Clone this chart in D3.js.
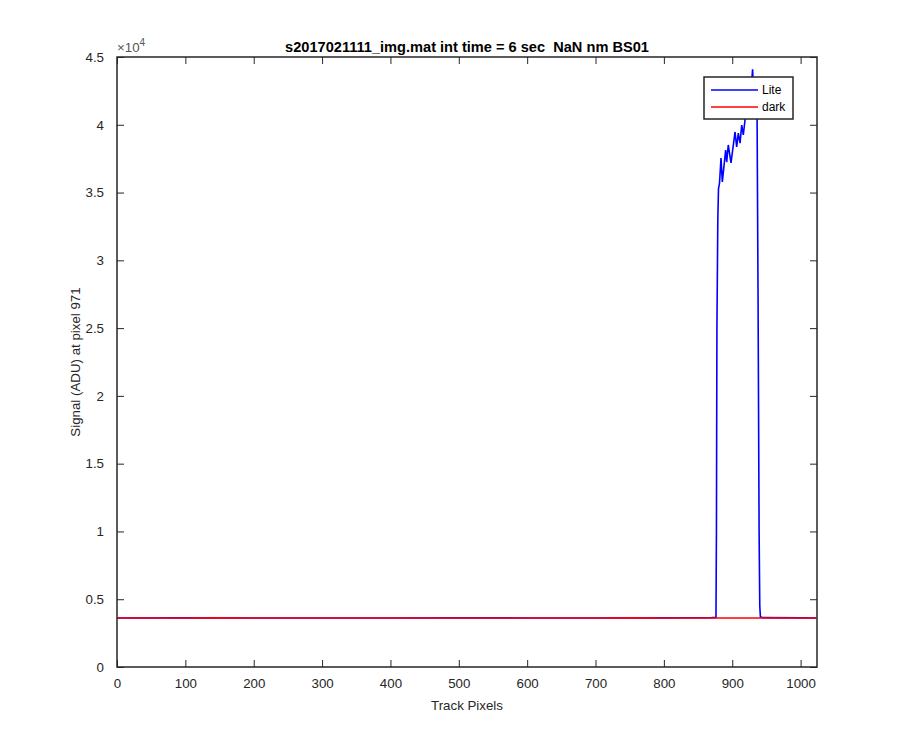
<!DOCTYPE html>
<html>
<head>
<meta charset="utf-8">
<script src="https://cdn.jsdelivr.net/npm/d3@7"></script>
<style>
  body { margin: 0; background: #fff; }
  svg { display: block; font-family: "Liberation Sans", Arial, sans-serif; }
</style>
</head>
<body>
<script>
// dark frame, sampled along the track (ADU)
var darkPix = [0, 50, 100, 150, 200, 250, 300, 350, 400, 450, 500, 550, 600, 650, 700, 750, 800, 850, 900, 950, 1000, 1023];
var darkVal = [3610, 3620, 3615, 3625, 3610, 3620, 3615, 3610, 3620, 3615, 3610, 3620, 3615, 3610, 3620, 3625, 3615, 3620, 3610, 3615, 3620, 3615];

// lit frame: flat until the slit image near pixel 880
var litePix = [0, 100, 200, 300, 400, 500, 600, 700, 800, 870, 876.2,
  876.9, 877.6, 878.9, 879.9, 880.6, 881.4, 883.6, 885.5, 890.4, 891.9, 894.2, 898.2,
  904.1, 906.5, 908.9, 911.4, 913.9, 916.2, 918.7, 921.6, 924.6, 927.5, 929.8, 931.9,
  934.9, 936.3, 937.8, 939.3, 940.3, 941.2, 945, 1000, 1023];
var liteVal = [3620, 3625, 3615, 3620, 3615, 3625, 3620, 3615, 3625, 3640, 3660,
  10000, 25000, 33000, 35300, 35480, 35700, 37550, 35780, 38140, 37250, 38510, 37180,
  39470, 38360, 39390, 38650, 39980, 39250, 40350, 41000, 41800, 42500, 44100, 41500,
  41800, 41000, 27000, 10000, 4500, 3700, 3640, 3625, 3620];

var xTicks = [0, 100, 200, 300, 400, 500, 600, 700, 800, 900, 1000];
var yTicks = [0, 5000, 10000, 15000, 20000, 25000, 30000, 35000, 40000, 45000];

var titleText = "s2017021111_img.mat int time = 6 sec  NaN nm BS01";
var xLabelText = "Track Pixels";
var yLabelText = "Signal (ADU) at pixel 971";
var legendNames = ["Lite", "dark"];
var legendColors = ["#0000ff", "#ff0000"];

var margin = {top: 57, left: 117};
var size = {width: 900, height: 750};
var plotW = 700, plotH = 610;
var axisColor = "#262626";

var svg = d3.select("body").append("svg")
  .attr("width", size.width)
  .attr("height", size.height);

var g = svg.append("g")
  .attr("transform", "translate(" + margin.left + "," + margin.top + ")");

var x = d3.scaleLinear().domain([0, 1024]).range([0, plotW]);
var y = d3.scaleLinear().domain([0, 45000]).range([plotH, 0]);

var lite = litePix.map(function(p, i) { return [p, liteVal[i]]; });
var dark = darkPix.map(function(p, i) { return [p, darkVal[i]]; });

var line = d3.line()
  .x(function(d) { return x(d[0]); })
  .y(function(d) { return y(d[1]); });

g.append("path").datum(lite)
  .attr("fill", "none").attr("stroke", legendColors[0])
  .attr("stroke-width", 1.6).attr("d", line);
g.append("path").datum(dark)
  .attr("fill", "none").attr("stroke", legendColors[1])
  .attr("stroke-width", 1.6).attr("d", line);

// axes, matlab style: ticks inward on all four sides
var tickLen = 7;
function styleAxis(sel) {
  sel.select(".domain").remove();
  sel.selectAll(".tick line").attr("stroke", axisColor).attr("stroke-width", 1);
  sel.selectAll(".tick text").attr("fill", axisColor).style("font-size", "13.3px");
}

g.append("g").attr("transform", "translate(0," + plotH + ")")
  .call(d3.axisBottom(x).tickValues(xTicks).tickSizeInner(-tickLen).tickSizeOuter(0).tickPadding(12)
    .tickFormat(d3.format("d")))
  .call(styleAxis);
g.append("g")
  .call(d3.axisTop(x).tickValues(xTicks).tickSizeInner(-tickLen).tickSizeOuter(0).tickFormat(""))
  .call(styleAxis);
g.append("g")
  .call(d3.axisLeft(y).tickValues(yTicks).tickSizeInner(-tickLen).tickSizeOuter(0).tickPadding(13)
    .tickFormat(function(d) { return d3.format("")(d / 10000); }))
  .call(styleAxis);
g.append("g").attr("transform", "translate(" + plotW + ",0)")
  .call(d3.axisRight(y).tickValues(yTicks).tickSizeInner(-tickLen).tickSizeOuter(0).tickFormat(""))
  .call(styleAxis);

g.append("rect")
  .attr("width", plotW).attr("height", plotH)
  .attr("fill", "none").attr("stroke", axisColor).attr("stroke-width", 1.5);

// exponent
var ex = g.append("text").attr("x", 0).attr("y", -5)
  .attr("fill", "#555").style("font-size", "13.3px");
ex.append("tspan").text("\u00d710");
ex.append("tspan").attr("dy", -6).style("font-size", "10px").text("4");

// title and labels
svg.append("text")
  .attr("x", margin.left + plotW / 2).attr("y", 52)
  .attr("text-anchor", "middle").attr("fill", "#000")
  .attr("xml:space", "preserve")
  .style("white-space", "pre")
  .style("font-size", "14.6px").style("font-weight", "bold")
  .text(titleText);

svg.append("text")
  .attr("x", margin.left + plotW / 2).attr("y", 710)
  .attr("text-anchor", "middle").attr("fill", axisColor)
  .style("font-size", "13.3px")
  .text(xLabelText);

svg.append("text")
  .attr("transform", "translate(80," + (margin.top + plotH / 2) + ") rotate(-90)")
  .attr("text-anchor", "middle").attr("fill", axisColor)
  .style("font-size", "13.3px")
  .text(yLabelText);

// legend
var leg = svg.append("g").attr("transform", "translate(704,77)");
leg.append("rect").attr("width", 89).attr("height", 42)
  .attr("fill", "#fff").attr("stroke", axisColor).attr("stroke-width", 1.5);
legendNames.forEach(function(name, i) {
  var ly = 13 + i * 17;
  leg.append("line").attr("x1", 7).attr("x2", 54).attr("y1", ly).attr("y2", ly)
    .attr("stroke", legendColors[i]).attr("stroke-width", 1.6);
  leg.append("text").attr("x", 58).attr("y", ly + 4)
    .attr("fill", "#000").style("font-size", "12px").text(name);
});
</script>
</body>
</html>
